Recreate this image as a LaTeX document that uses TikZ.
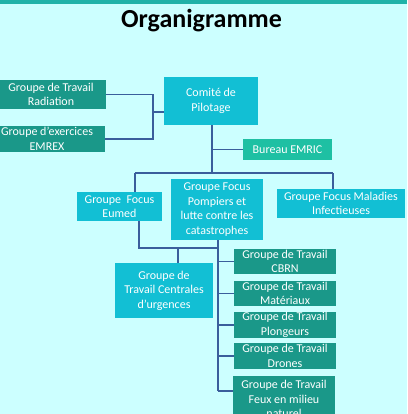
\documentclass[tikz,border=0pt]{standalone}
\usepackage{fontspec}
\setmainfont{Carlito}
\definecolor{bgc}{HTML}{CCFFFF}
\definecolor{barc}{HTML}{20B2A8}
\definecolor{cyanbox}{HTML}{12BFD4}
\definecolor{tealbox}{HTML}{1A9889}
\definecolor{emricc}{HTML}{1EC0A3}
\definecolor{linec}{HTML}{3A5E9C}
\begin{document}
\begin{tikzpicture}[x=1pt,y=-1pt,
  box/.style={rectangle,inner sep=0pt,align=center,text=white,font=\fontsize{12}{14.6}\selectfont},
  cbox/.style={box,fill=cyanbox},
  tbox/.style={box,fill=tealbox},
  ebox/.style={box,fill=emricc},
  conn/.style={draw=linec,line width=1.6pt}]
\fill[bgc] (0,0) rectangle (407,414);
\useasboundingbox (0,0) rectangle (407,414);
\fill[barc] (0,0) rectangle (407,4);
\node[anchor=base,font=\fontsize{26}{30}\selectfont\bfseries] (title) at (201.5,28) {Organigramme};

% connectors (drawn first, behind boxes)
\coordinate (jl) at (153,112);
\coordinate (bus) at (212,173);
\coordinate (lb) at (178,248);

\node[cbox,minimum width=94,minimum height=48] (com) at (211,101) {Comité de\\Pilotage};
\node[tbox,minimum width=110,minimum height=29] (rad) at (51,94.5) {Groupe de Travail\\Radiation};
\node[tbox,minimum width=116,minimum height=26] (emrex) at (47,139) {Groupe d’exercices\\EMREX};
\node[ebox,minimum width=89,minimum height=21] (emric) at (287.5,149.5) {Bureau EMRIC};
\node[cbox,minimum width=85,minimum height=29] (eumed) at (119.5,206.5) {Groupe\ \ Focus\\Eumed};
\node[cbox,minimum width=92,minimum height=61] (pomp) at (217,209.5) {Groupe Focus\\Pompiers et\\lutte contre les\\catastrophes};
\node[cbox,minimum width=128,minimum height=29] (mal) at (341,203.5) {Groupe Focus Maladies\\Infectieuses};
\node[cbox,minimum width=98,minimum height=55] (cen) at (164,290.5) {Groupe de\\Travail Centrales\\d’urgences};
\node[tbox,minimum width=102,minimum height=25] (cbrn) at (285,261.5) {Groupe de Travail\\CBRN};
\node[tbox,minimum width=102,minimum height=25] (mat) at (285,293.5) {Groupe de Travail\\Matériaux};
\node[tbox,minimum width=102,minimum height=26] (plo) at (285,325) {Groupe de Travail\\Plongeurs};
\node[tbox,minimum width=102,minimum height=26] (dro) at (285,356) {Groupe de Travail\\Drones};
\node[tbox,minimum width=102,minimum height=46,anchor=north] (feux) at (284,376) {Groupe de Travail\\Feux en milieu\\naturel};

\begin{scope}[on background layer/.style={}]
\end{scope}
\draw[conn] (rad.east) -| (jl |- emrex.east) -- (emrex.east);
\draw[conn] (jl) -- (com.west |- jl);
\draw[conn] (com.south -| bus) -- (bus);
\draw[conn] (bus |- emric.west) -- (emric.west);
\draw[conn] (135,173) -- (333,173);
\draw[conn] (135,173) -- (135,192);
\draw[conn] (333,173) -- (333,189);
\draw[conn] (139,221) -- (139,248) -- (218,248);
\draw[conn] (218,240) -- (218,391);
\draw[conn] (lb) -- (lb |- cen.north);
\draw[conn] (218,261.5) -- (cbrn.west);
\draw[conn] (218,293.5) -- (mat.west);
\draw[conn] (218,325) -- (plo.west);
\draw[conn] (218,356) -- (dro.west);
\draw[conn] (218,391) -- (feux.west |- 0,391);
\end{tikzpicture}
\end{document}
